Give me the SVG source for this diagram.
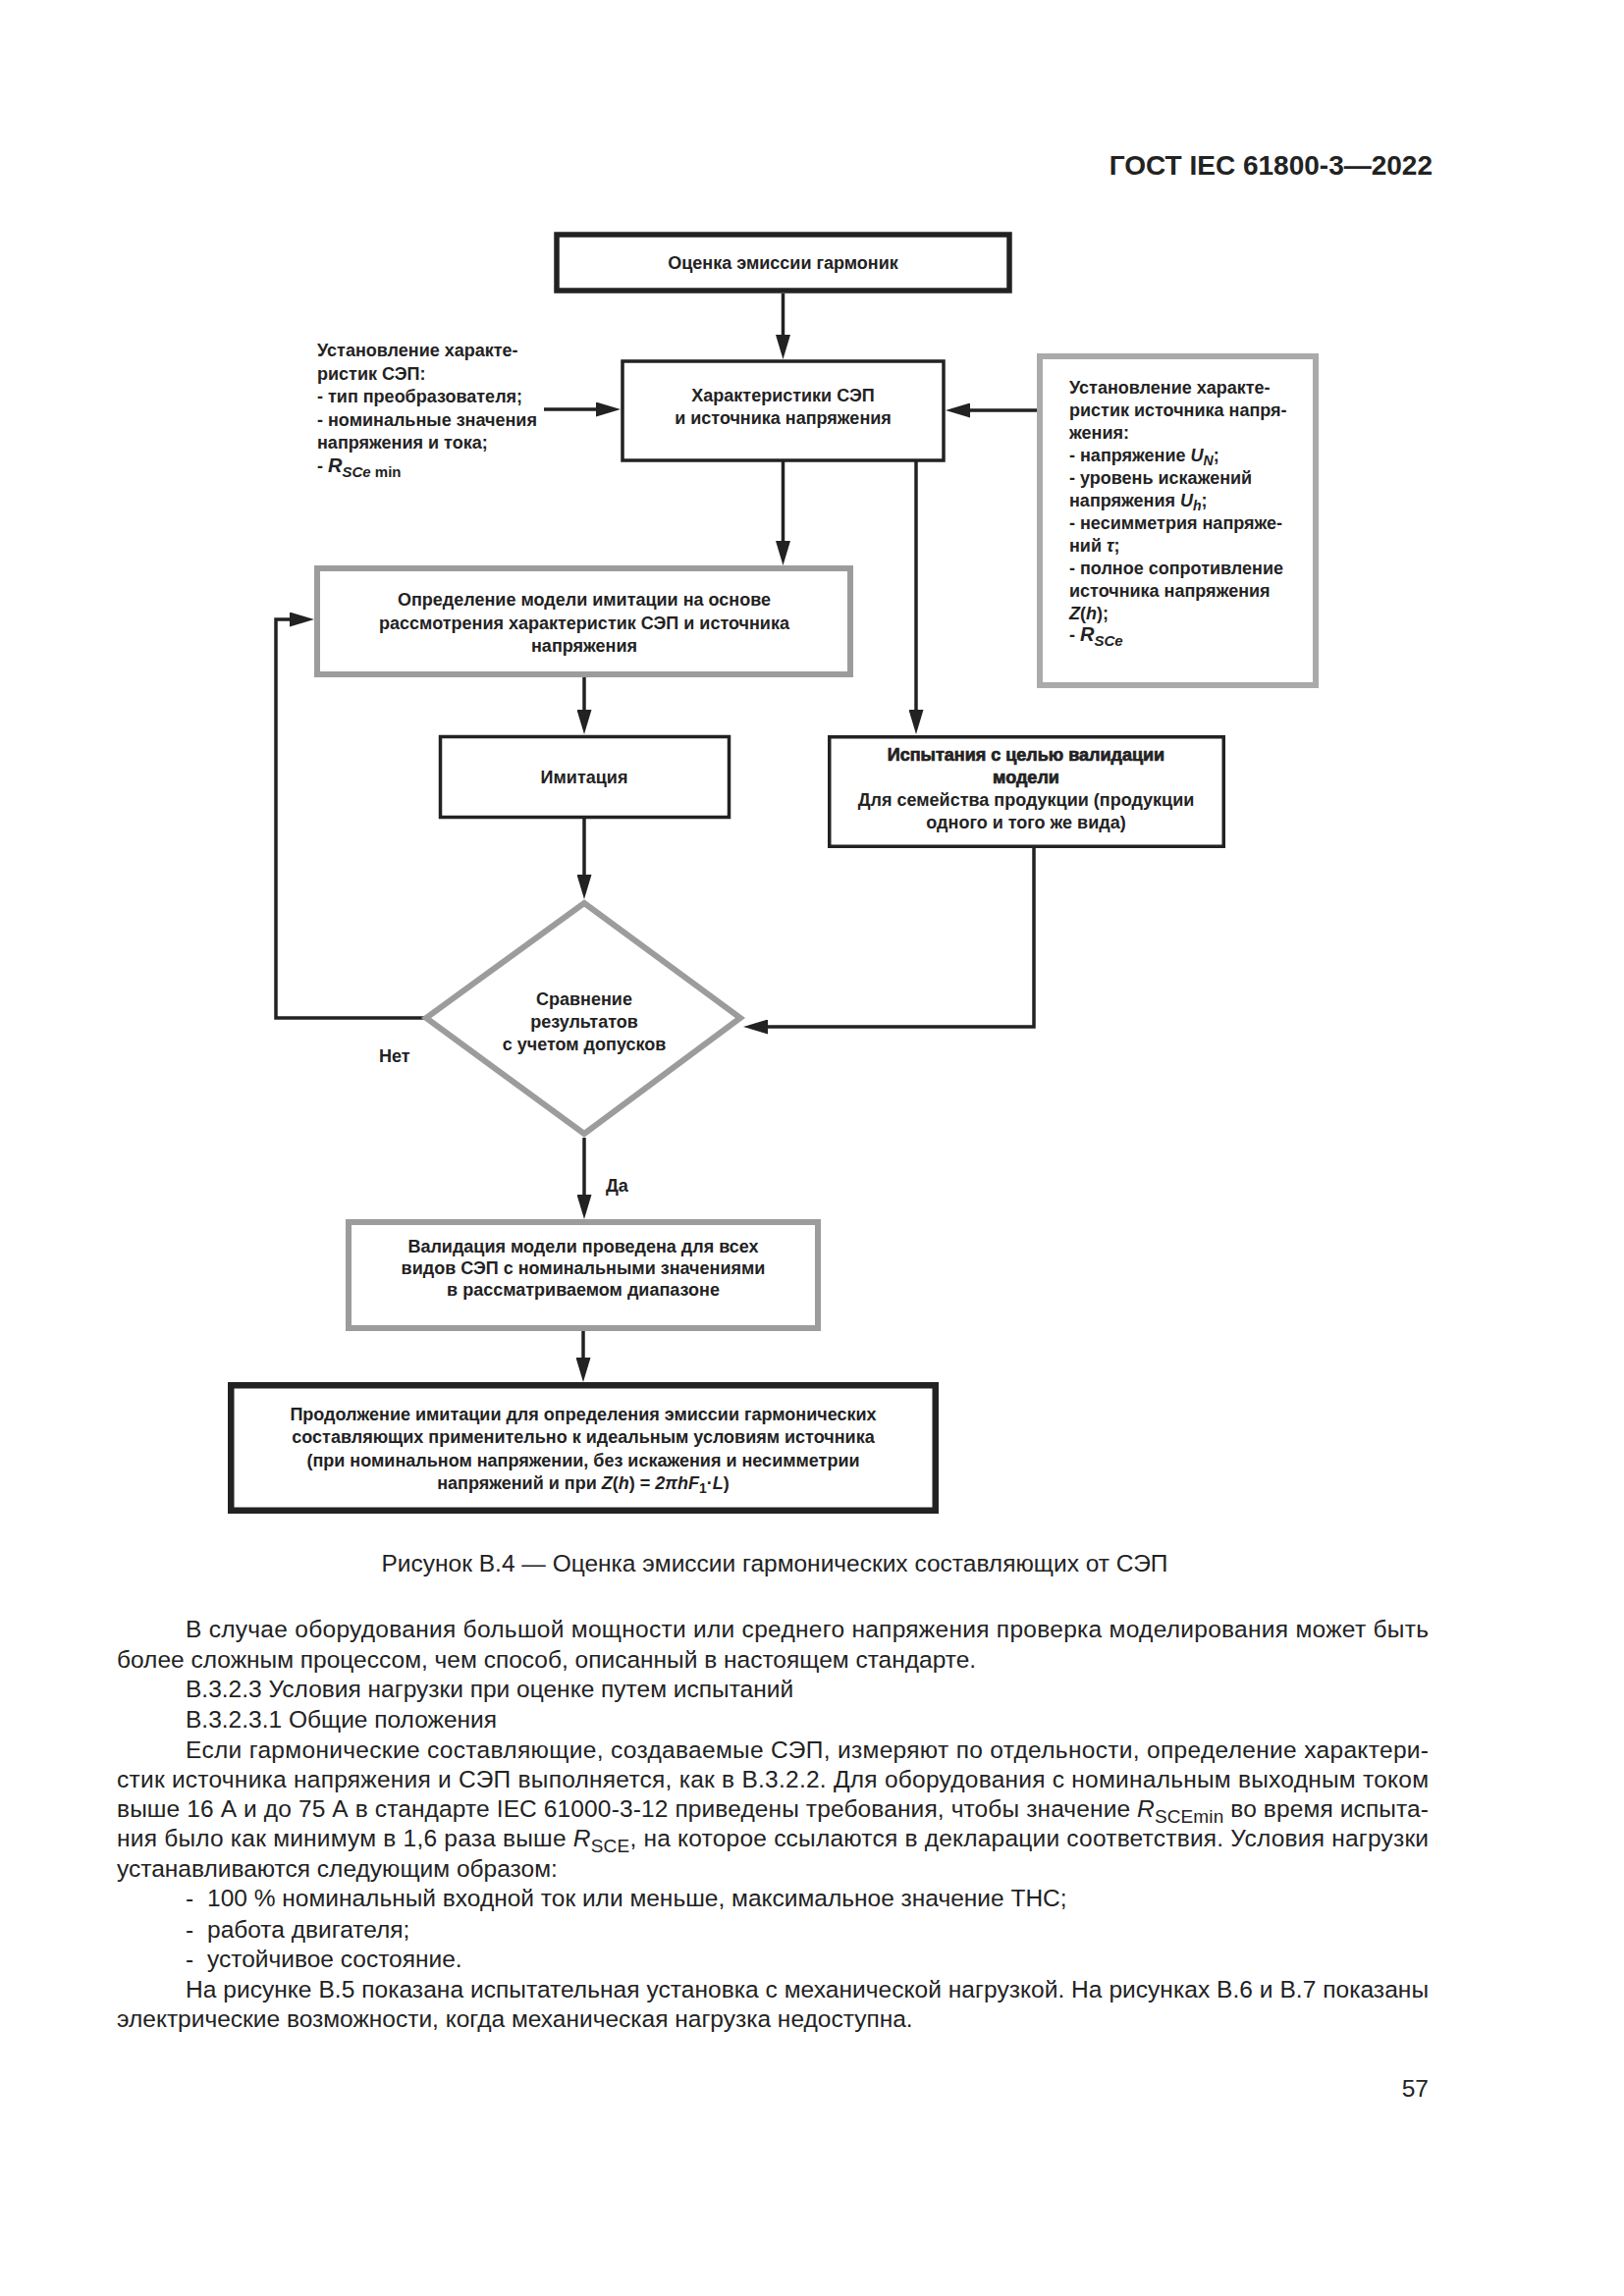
<svg xmlns="http://www.w3.org/2000/svg" width="1654" height="2339" viewBox="0 0 1654 2339">
<style>
.t{font-family:"Liberation Sans",Arial,sans-serif;font-weight:bold;font-size:18px;fill:#222}
.c{text-anchor:middle}
.hv{stroke:#222;stroke-width:0.7}
.b{font-family:"Liberation Sans",Arial,sans-serif;font-size:24.5px;fill:#222}
.hd{font-family:"Liberation Sans",Arial,sans-serif;font-weight:bold;font-size:28px;fill:#222;text-anchor:end}
.k{fill:#fff;stroke:#222}
.g{fill:#fff;stroke:#9c9c9c;stroke-width:6}
.gl{fill:#fff;stroke:#aaaaaa;stroke-width:6}
.ln{fill:none;stroke:#222;stroke-width:3.5}
.i{font-style:italic}
</style>
<defs>
<marker id="ah" viewBox="0 0 25 15" refX="0" refY="7.5" markerWidth="25" markerHeight="15" markerUnits="userSpaceOnUse" orient="auto">
<path d="M0,0 L25,7.5 L0,15 z" fill="#222"/>
</marker>
</defs>
<rect width="1654" height="2339" fill="#fff"/>

<text class="hd" x="1459" y="178">ГОСТ IEC 61800-3—2022</text>

<g id="connectors">
<path class="ln" d="M797.5,299 V341" marker-end="url(#ah)"/>
<path class="ln" d="M554,417 H607" marker-end="url(#ah)"/>
<path class="ln" d="M1056,418 H988" marker-end="url(#ah)"/>
<path class="ln" d="M797.5,470 V551" marker-end="url(#ah)"/>
<path class="ln" d="M933,470 V723" marker-end="url(#ah)"/>
<path class="ln" d="M595,690 V723" marker-end="url(#ah)"/>
<path class="ln" d="M595,834 V891" marker-end="url(#ah)"/>
<path class="ln" d="M432,1037 H281 V631 H295" marker-end="url(#ah)"/>
<path class="ln" d="M1053,863 V1046 H782" marker-end="url(#ah)"/>
<path class="ln" d="M595,1159 V1217" marker-end="url(#ah)"/>
<path class="ln" d="M594,1356 V1383" marker-end="url(#ah)"/>
<text class="t" x="386" y="1082">Нет</text>
<text class="t" x="617" y="1214">Да</text>
</g>

<g id="n_start">
<rect class="k" x="567" y="239" width="461" height="57" stroke-width="5.5"/>
<text class="t c" x="797.5" y="274">Оценка эмиссии гармоник</text>
</g>

<g id="n_char">
<rect class="k" x="634" y="368" width="327" height="101" stroke-width="3.5"/>
<text class="t c" x="797.5" y="409">Характеристики СЭП</text>
<text class="t c" x="797.5" y="432">и источника напряжения</text>
</g>

<g id="n_left_note">
<text class="t" x="323" y="363">Установление характе-</text>
<text class="t" x="323" y="386.5">ристик СЭП:</text>
<text class="t" x="323" y="410">- тип преобразователя;</text>
<text class="t" x="323" y="433.5">- номинальные значения</text>
<text class="t" x="323" y="457">напряжения и тока;</text>
<text class="t" x="323" y="481">- <tspan class="i" font-size="20">R</tspan><tspan font-size="15" dy="5"><tspan class="i">SCe</tspan> min</tspan></text>
</g>

<g id="n_source">
<rect class="gl" x="1059" y="363" width="281" height="335"/>
<text class="t" x="1089" y="401">Установление характе-</text>
<text class="t" x="1089" y="424">ристик источника напря-</text>
<text class="t" x="1089" y="447">жения:</text>
<text class="t" x="1089" y="470">- напряжение <tspan class="i">U</tspan><tspan class="i" font-size="14" dy="4">N</tspan><tspan dy="-4">;</tspan></text>
<text class="t" x="1089" y="493">- уровень искажений</text>
<text class="t" x="1089" y="516">напряжения <tspan class="i">U</tspan><tspan class="i" font-size="14" dy="4">h</tspan><tspan dy="-4">;</tspan></text>
<text class="t" x="1089" y="539">- несимметрия напряже-</text>
<text class="t" x="1089" y="562">ний <tspan class="i">τ</tspan>;</text>
<text class="t" x="1089" y="585">- полное сопротивление</text>
<text class="t" x="1089" y="608">источника напряжения</text>
<text class="t" x="1089" y="631"><tspan class="i">Z</tspan>(<tspan class="i">h</tspan>);</text>
<text class="t" x="1089" y="653">- <tspan class="i" font-size="20">R</tspan><tspan class="i" font-size="15" dy="5">SCe</tspan></text>
</g>

<g id="n_model">
<rect class="g" x="323" y="579" width="543" height="108"/>
<text class="t c" x="595" y="617">Определение модели имитации на основе</text>
<text class="t c" x="595" y="641">рассмотрения характеристик СЭП и источника</text>
<text class="t c" x="595" y="664">напряжения</text>
</g>

<g id="n_sim">
<rect class="k" x="448.5" y="750.5" width="294" height="82" stroke-width="3.5"/>
<text class="t c" x="595" y="798">Имитация</text>
</g>

<g id="n_test">
<rect class="k" x="844.75" y="750.75" width="401.5" height="111.5" stroke-width="3.5"/>
<text class="t c hv" x="1045" y="775">Испытания с целью валидации</text>
<text class="t c hv" x="1045" y="798">модели</text>
<text class="t c" x="1045" y="821">Для семейства продукции (продукции</text>
<text class="t c" x="1045" y="844">одного и того же вида)</text>
</g>

<g id="n_compare">
<polygon class="g" points="595,920 754,1037 595,1155 434,1037"/>
<text class="t c" x="595" y="1024">Сравнение</text>
<text class="t c" x="595" y="1047">результатов</text>
<text class="t c" x="595" y="1070">с учетом допусков</text>
</g>

<g id="n_valid">
<rect class="g" x="355" y="1245" width="478" height="108"/>
<text class="t c" x="594" y="1276">Валидация модели проведена для всех</text>
<text class="t c" x="594" y="1298">видов СЭП с номинальными значениями</text>
<text class="t c" x="594" y="1320">в рассматриваемом диапазоне</text>
</g>

<g id="n_continue">
<rect class="k" x="235.25" y="1411.25" width="717.5" height="127.5" stroke-width="6.5"/>
<text class="t c" x="594" y="1447">Продолжение имитации для определения эмиссии гармонических</text>
<text class="t c" x="594" y="1470">составляющих применительно к идеальным условиям источника</text>
<text class="t c" x="594" y="1494">(при номинальном напряжении, без искажения и несимметрии</text>
<text class="t c" x="594" y="1517">напряжений и при <tspan class="i">Z</tspan>(<tspan class="i">h</tspan>) = <tspan class="i">2πhF</tspan><tspan font-size="14" dy="4">1</tspan><tspan dy="-4">·</tspan><tspan class="i">L</tspan>)</text>
</g>

<text class="b" x="789" y="1601" text-anchor="middle" font-size="25">Рисунок В.4 — Оценка эмиссии гармонических составляющих от СЭП</text>

<g id="body">
<text class="b" x="189" y="1668" textLength="1266" lengthAdjust="spacing">В случае оборудования большой мощности или среднего напряжения проверка моделирования может быть</text>
<text class="b" x="119" y="1699">более сложным процессом, чем способ, описанный в настоящем стандарте.</text>
<text class="b" x="189" y="1729">В.3.2.3 Условия нагрузки при оценке путем испытаний</text>
<text class="b" x="189" y="1760">В.3.2.3.1 Общие положения</text>
<text class="b" x="189" y="1790.5" textLength="1266" lengthAdjust="spacing">Если гармонические составляющие, создаваемые СЭП, измеряют по отдельности, определение характери-</text>
<text class="b" x="119" y="1821" textLength="1336" lengthAdjust="spacing">стик источника напряжения и СЭП выполняется, как в В.3.2.2. Для оборудования с номинальным выходным током</text>
<text class="b" x="119" y="1851" textLength="1336" lengthAdjust="spacing">выше 16 А и до 75 А в стандарте IEC 61000-3-12 приведены требования, чтобы значение <tspan class="i">R</tspan><tspan font-size="19" dy="6">SCEmin</tspan><tspan dy="-6"> во время испыта-</tspan></text>
<text class="b" x="119" y="1881" textLength="1336" lengthAdjust="spacing">ния было как минимум в 1,6 раза выше <tspan class="i">R</tspan><tspan font-size="19" dy="6">SCE</tspan><tspan dy="-6">, на которое ссылаются в декларации соответствия. Условия нагрузки</tspan></text>
<text class="b" x="119" y="1912">устанавливаются следующим образом:</text>
<text class="b" x="189" y="1942">-</text>
<text class="b" x="211" y="1942">100 % номинальный входной ток или меньше, максимальное значение THC;</text>
<text class="b" x="189" y="1973.5">-</text>
<text class="b" x="211" y="1973.5">работа двигателя;</text>
<text class="b" x="189" y="2004">-</text>
<text class="b" x="211" y="2004">устойчивое состояние.</text>
<text class="b" x="189" y="2035" textLength="1266" lengthAdjust="spacing">На рисунке В.5 показана испытательная установка с механической нагрузкой. На рисунках В.6 и В.7 показаны</text>
<text class="b" x="119" y="2065">электрические возможности, когда механическая нагрузка недоступна.</text>
<text class="b" x="1455" y="2136" text-anchor="end">57</text>
</g>
</svg>
